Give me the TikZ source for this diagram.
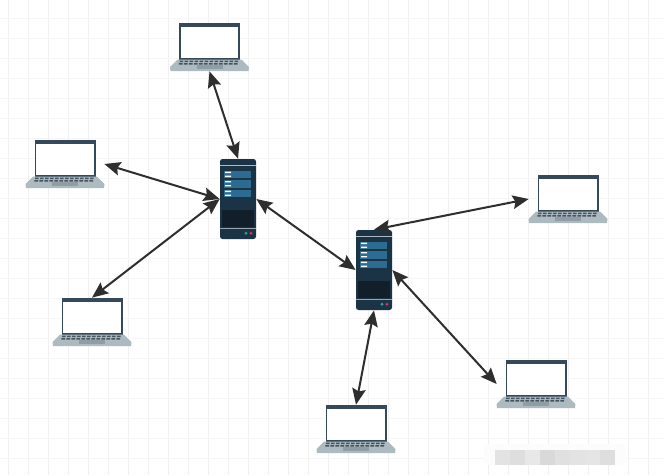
\documentclass[tikz,border=0pt]{standalone}
\usetikzlibrary{arrows.meta}
\definecolor{framecol}{HTML}{35495A}
\definecolor{basecol}{HTML}{ADBAC0}
\definecolor{padcol}{HTML}{8F9EA5}
\definecolor{keycol}{HTML}{46545E}
\definecolor{srvcol}{HTML}{1A3445}
\definecolor{srvdark}{HTML}{121F2B}
\definecolor{srvpanel}{HTML}{2C6C92}
\definecolor{gridcol}{HTML}{F0F0F0}
\definecolor{linkcol}{HTML}{2E2E2E}
\tikzset{
  laptop/.style={rectangle, minimum width=15.6mm, minimum height=9.6mm, inner sep=0pt},
  server/.style={rectangle, minimum width=7.2mm, minimum height=16mm, inner sep=0pt},
  link/.style={{Stealth[length=3.2mm,width=2.7mm,inset=0.5mm]}-{Stealth[length=3.2mm,width=2.7mm,inset=0.5mm]}, line width=0.4mm, color=linkcol},
  gridline/.style={gridcol, line width=0.2mm}
}
\newcommand{\laptopat}[2]{%
  \node[laptop] (#1) at (#2) {};
  \begin{scope}[shift={(#2)}]
    \fill[framecol] (-30.5,-24) rectangle (30.5,13);
    \fill[white] (-28.7,-20.5) rectangle (28.7,10.8);
    \fill[basecol] (-32,12.5) -- (32,12.5) -- (39.5,20) -- (39,24) -- (-39,24) -- (-39.5,20) -- cycle;
    \foreach \kx in {-30,-25,...,25}
      \fill[keycol] (\kx,13.5) rectangle ++(3.6,1.7) (\kx-0.6,16) rectangle ++(3.6,1.5);
    \fill[padcol] (-13,18) rectangle (13,21.7);
  \end{scope}
}
\newcommand{\serverat}[2]{%
  \node[server] (#1) at (#2) {};
  \begin{scope}[shift={(#2)}]
    \fill[srvcol, rounded corners=0.5mm] (-18,-40) rectangle (18,40);
    \fill[white!65!srvcol] (-18,-34.5) rectangle (18,-33.7);
    \foreach \ry in {-28.3,-19,-9.3} {
      \fill[srvpanel] (-14,\ry) rectangle (12.7,\ry+7.6);
      \fill[white] (-13,\ry+1) rectangle (-7,\ry+2.4) (-13,\ry+5) rectangle (-7,\ry+6.4);
    }
    \fill[srvdark] (-16,11) rectangle (16,28.3);
    \fill[white!55!srvcol] (-18,29) rectangle (18,30);
    \fill[teal!80!white] (8,34.3) circle (1.6);
    \fill[purple!80!white] (13,34.3) circle (1.6);
  \end{scope}
}
\begin{document}
\begin{tikzpicture}[x=0.2mm, y=-0.2mm]
  \useasboundingbox (0,0) rectangle (664,475);
  \fill[white] (0,0) rectangle (664,475);
  \foreach \gx in {8,28,...,660}
    \draw[gridline] (\gx,0) -- (\gx,475);
  \foreach \gy in {18,38,...,470}
    \draw[gridline, gridcol!60] (0,\gy) -- (664,\gy);

  % blurred patch
  \fill[white!99!black, rounded corners=1mm] (484,444) rectangle (626,465);
  \foreach \bx/\bc in {495/89, 510/87, 525/91, 540/85, 555/88, 570/89, 585/90, 600/87}
    \fill[black!\the\numexpr100-\bc\relax] (\bx,450) rectangle ++(15,15);

  \laptopat{laptopa}{209.5,47}
  \laptopat{laptopb}{65,164}
  \laptopat{laptopc}{92,322}
  \laptopat{laptopd}{568,199}
  \laptopat{laptope}{536,384}
  \laptopat{laptopf}{356,429}
  \serverat{srva}{238,199}
  \serverat{srvb}{374,270}

  \draw[link] (laptopa.south) -- (srva.north);
  \draw[link] (laptopb.east) -- (srva.west);
  \draw[link] (laptopc.north) -- (srva.west);
  \draw[link] (srva.east) -- (srvb.west);
  \draw[link] (laptopd.west) -- (srvb.north);
  \draw[link] (laptope.west) -- (srvb.east);
  \draw[link] (laptopf.north) -- (srvb.south);
\end{tikzpicture}
\end{document}
